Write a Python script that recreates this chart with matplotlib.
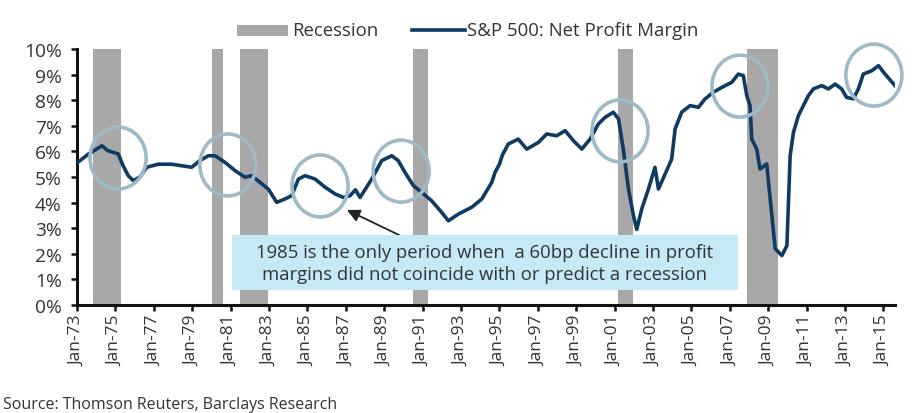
import matplotlib
matplotlib.use("Agg")
import matplotlib.pyplot as plt
from matplotlib.patches import Ellipse, Rectangle
from matplotlib.lines import Line2D

plt.rcParams['font.family'] = ['Open Sans', 'DejaVu Sans']

# ---- data (decimal years, % net profit margin) ----
years = [1973.0, 1973.6, 1974.3, 1974.6, 1975.15, 1975.4, 1975.67, 1975.93, 1976.28, 1976.63,
         1977.23, 1977.93, 1978.45, 1978.97, 1979.4, 1979.84, 1980.19, 1980.71, 1981.23, 1981.75,
         1982.1, 1982.53, 1982.96, 1983.4, 1983.83, 1984.18, 1984.53, 1984.88, 1985.4, 1985.92,
         1986.44, 1986.87, 1987.22, 1987.5, 1987.74, 1988.35, 1988.87, 1989.39, 1989.73, 1990.08,
         1990.52, 1990.95, 1991.47, 1991.99, 1992.34, 1992.86, 1993.56, 1994.08, 1994.6, 1994.77,
         1995.0, 1995.15, 1995.46, 1995.98, 1996.42, 1997.03, 1997.46, 1997.98, 1998.42, 1998.85,
         1999.29, 1999.72, 2000.15, 2000.5, 2000.93, 2001.2, 2001.45, 2001.72, 2001.98, 2002.15,
         2002.41, 2002.76, 2003.1, 2003.28, 2003.63, 2003.97, 2004.15, 2004.49, 2004.93, 2005.36,
         2005.71, 2006.14, 2006.58, 2007.1, 2007.44, 2007.7, 2007.88, 2008.05, 2008.14, 2008.4,
         2008.57, 2008.92, 2009.1, 2009.36, 2009.71, 2009.97, 2010.14, 2010.31, 2010.57, 2010.83,
         2011.09, 2011.35, 2011.78, 2012.13, 2012.48, 2012.82, 2013.08, 2013.43, 2013.69, 2013.95,
         2014.39, 2014.74, 2015.08, 2015.6]
margin = [5.55, 5.9, 6.22, 6.03, 5.9, 5.44, 5.05, 4.86, 5.0, 5.38,
          5.5, 5.5, 5.44, 5.38, 5.64, 5.83, 5.83, 5.57, 5.25, 4.99,
          5.05, 4.79, 4.53, 4.01, 4.14, 4.27, 4.92, 5.05, 4.92, 4.6,
          4.34, 4.2, 4.27, 4.5, 4.2, 4.92, 5.64, 5.83, 5.64, 5.18,
          4.66, 4.4, 4.07, 3.62, 3.29, 3.55, 3.82, 4.14, 4.79, 5.18,
          5.5, 5.85, 6.29, 6.48, 6.09, 6.35, 6.68, 6.61, 6.81, 6.42,
          6.09, 6.48, 7.07, 7.33, 7.53, 7.27, 6.09, 4.53, 3.49, 2.95,
          3.75, 4.53, 5.38, 4.53, 5.12, 5.7, 6.88, 7.53, 7.79, 7.72,
          8.05, 8.31, 8.5, 8.7, 9.02, 8.96, 8.18, 7.79, 6.48, 6.09,
          5.31, 5.51, 4.14, 2.2, 1.93, 2.32, 5.83, 6.74, 7.4, 7.79,
          8.18, 8.44, 8.57, 8.44, 8.63, 8.44, 8.11, 8.05, 8.44, 9.02,
          9.15, 9.35, 9.02, 8.57]

rec_start = [1973.83, 1980.03, 1981.5, 1990.5, 2001.15, 2007.9]
rec_end = [1975.29, 1980.6, 1982.95, 1991.3, 2001.96, 2009.5]

circle_x = [1975.14, 1980.86, 1985.66, 1989.88, 2001.28, 2007.53, 2014.5]
circle_y = [5.74, 5.47, 4.65, 5.23, 6.8, 8.55, 8.98]

tick_years = list(range(1973, 2016, 2))
tick_labels = ["Jan-%02d" % (y % 100) for y in tick_years]
y_ticks = list(range(0, 11))
y_labels = ["%d%%" % v for v in y_ticks]

note = "1985 is the only period when  a 60bp decline in profit\nmargins did not coincide with or predict a recession"
source = "Source: Thomson Reuters, Barclays Research"

W, H = 916, 414
fig = plt.figure(figsize=(W / 100, H / 100), dpi=100)
ax = fig.add_axes([77 / W, 1 - 306 / H, (895 - 77) / W, (306 - 50) / H])

LINE_C = '#0f3a62'
REC_C = '#a8a8a8'
CIRC_C = '#9dbac6'
TXT_C = '#333333'

for s, e in zip(rec_start, rec_end):
    ax.axvspan(s, e, color=REC_C, lw=0, zorder=1)

ax.plot(years, margin, color=LINE_C, lw=2.6, zorder=3, solid_joinstyle='round')

for cx, cy in zip(circle_x, circle_y):
    ax.add_patch(Ellipse((cx, cy), 2.92, 2.42, fill=False, ec=CIRC_C, lw=2.6,
                         zorder=4, clip_on=False))

ax.set_xlim(1973, 2015.6)
ax.set_ylim(0, 10)
ax.set_xticks(tick_years)
ax.set_xticklabels(tick_labels, rotation=90, fontsize=12.5, color=TXT_C)
ax.set_yticks(y_ticks)
ax.set_yticklabels(y_labels, fontsize=13.8, color=TXT_C)
for sp in ['top', 'right']:
    ax.spines[sp].set_visible(False)
for sp in ['left', 'bottom']:
    ax.spines[sp].set_linewidth(2.2)
    ax.spines[sp].set_color('#111111')
ax.tick_params(axis='both', direction='out', length=4, width=1.8, color='#111111')
ax.tick_params(axis='y', pad=7)
ax.tick_params(axis='x', pad=3)

# annotation box
fig.patches.append(Rectangle((232 / W, 1 - 291 / H), (738 - 232) / W, (291 - 236) / H,
                             transform=fig.transFigure, color='#c6e9f6', lw=0, zorder=5))
fig.text(485 / W, 1 - 264 / H, note, ha='center', va='center', fontsize=13.3,
         color=TXT_C, linespacing=1.25, zorder=6)
ax.annotate('', xy=(347 / W, 1 - 211 / H), xycoords='figure fraction',
            xytext=(399 / W, 1 - 236 / H), textcoords='figure fraction',
            arrowprops=dict(arrowstyle='-|>', color='#222222', lw=1.3,
                            mutation_scale=19, shrinkA=0, shrinkB=0), zorder=6)

# legend (manual)
fig.patches.append(Rectangle((237 / W, 1 - 37 / H), 51 / W, 11 / H,
                             transform=fig.transFigure, color=REC_C, lw=0))
fig.text(292 / W, 1 - 31 / H, "Recession", ha='left', va='center', fontsize=13.4, color=TXT_C)
fig.lines.append(Line2D([412 / W, 465 / W], [1 - 31 / H, 1 - 31 / H],
                        transform=fig.transFigure, color=LINE_C, lw=2.6))
fig.text(467 / W, 1 - 31 / H, "S&P 500: Net Profit Margin", ha='left', va='center',
         fontsize=13.4, color=TXT_C)

fig.text(3 / W, 1 - 405 / H, source, ha='left', va='center', fontsize=11.5, color=TXT_C)

fig.savefig('out.png', dpi=100, facecolor='white')
